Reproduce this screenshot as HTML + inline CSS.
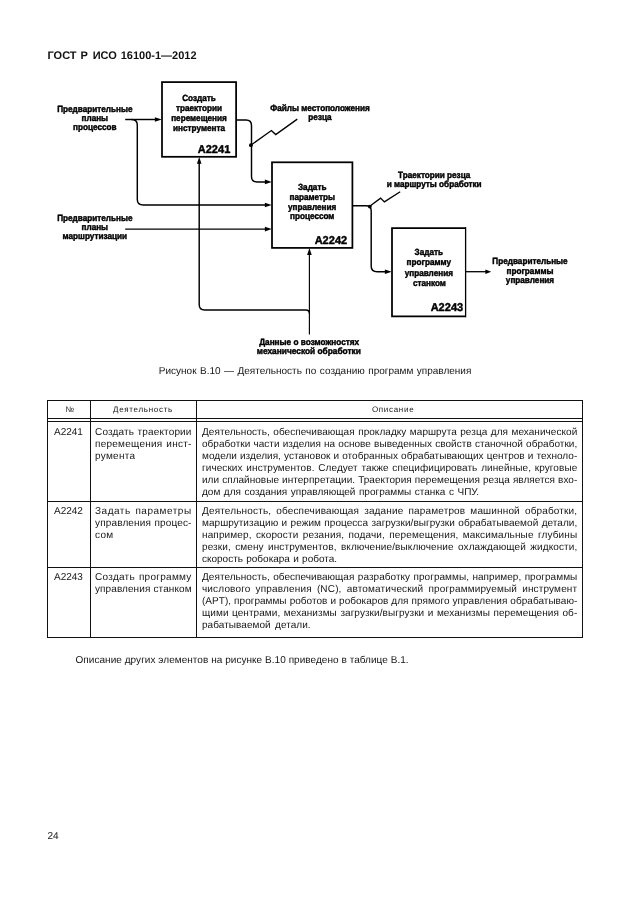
<!DOCTYPE html>
<html lang="ru">
<head>
<meta charset="utf-8">
<title>ГОСТ Р ИСО 16100-1—2012</title>
<style>
html,body{margin:0;padding:0;background:#fff;}
body{width:630px;height:913px;position:relative;overflow:hidden;font-family:"Liberation Sans",sans-serif;color:#151515;text-rendering:geometricPrecision;}
#w{position:absolute;left:0;top:0;width:630px;height:913px;will-change:transform;}
.abs{position:absolute;white-space:nowrap;}
.hdr{top:49.5px;font-size:11px;line-height:13px;font-weight:bold;color:#111;}
.cap{left:158.8px;top:365.3px;font-size:10px;line-height:13px;word-spacing:0.7px;}
.note{left:75.5px;top:654.3px;font-size:10px;line-height:13px;letter-spacing:0.047px;}
.pg{left:47.4px;top:830.3px;font-size:10px;line-height:13px;}
svg{position:absolute;left:0;top:0;}
svg text{font-family:"Liberation Sans",sans-serif;font-weight:bold;fill:#000;}
.t{font-size:9.0px;text-anchor:middle;}
.n{font-size:11.4px;text-anchor:end;}
.ln{position:absolute;background:#111;}
.th{position:absolute;font-size:8px;line-height:10px;letter-spacing:0.7px;text-align:center;white-space:nowrap;}
.c{position:absolute;font-size:10px;line-height:12.0px;}
.c div{height:12.0px;white-space:nowrap;}
.j{text-align:justify;text-align-last:justify;}
</style>
</head>
<body>
<div id="w">
<div class="abs hdr" style="left:47.5px">ГОСТ</div>
<div class="abs hdr" style="left:80.6px">Р</div>
<div class="abs hdr" style="left:92.7px">ИСО</div>
<div class="abs hdr" style="left:120.7px">16100-1—2012</div>

<svg width="630" height="360" viewBox="0 0 630 360">
<defs><filter id="b" x="-5%" y="-5%" width="110%" height="110%"><feGaussianBlur stdDeviation="0.3"/></filter><filter id="c" x="-5%" y="-5%" width="110%" height="110%"><feGaussianBlur stdDeviation="0.45"/></filter></defs>
<g filter="url(#b)">
<g fill="none" stroke="#000" stroke-width="1.75">
<rect x="162.0" y="82.1" width="74.10" height="74.70"/>
<rect x="272.0" y="162.3" width="80.40" height="85.60"/>
<path d="M465.7 228.0H392.0V316.4H465.7" stroke-linejoin="miter"/>
<path d="M465.6 227.13V317.27" stroke-width="1.3"/>
</g>
<g fill="none" stroke="#000" stroke-width="1.45">
<path d="M125.2 119.5H157"/>
<path d="M131.5 119.5Q137.3 119.5 137.3 125.0V199.5Q137.3 205.0 143.3 205.0H267"/>
<path d="M125.2 229.1H267"/>
<path d="M236.1 119.9H246.0Q251.5 119.9 251.5 125.4V176.4Q251.5 181.9 257.0 181.9H267"/>
<path d="M250.8 145.2L271.4 130.5L275.7 134.6L297.3 119.1" stroke-width="1.35"/>
<path d="M352.4 205.8H366.2Q371.2 205.8 371.2 210.8V266.2Q371.2 271.7 377.2 271.7H387"/>
<path d="M369.7 206.2L380.6 198.1L384.4 201.9L400.2 191.7" stroke-width="1.35"/>
<path d="M465.7 271.7H487" stroke-width="1.3"/>
<path d="M199.2 162V304.5Q199.2 310.0 204.7 310.0H305.9Q309.4 310.0 309.4 313.5"/>
<path d="M309.4 334.4V254" stroke-width="1.15"/>
</g>
<g fill="#000" stroke="none">
<circle cx="250.9" cy="145.2" r="1.9"/>
<circle cx="369.8" cy="206.6" r="1.9"/>
<path d="M161.7 119.5L154.9 117.2V121.8Z"/>
<path d="M271.7 205.0L264.9 202.7V207.3Z"/>
<path d="M271.7 229.1L264.9 226.8V231.4Z"/>
<path d="M271.7 181.9L264.9 179.6V184.2Z"/>
<path d="M391.7 271.7L384.9 269.4V274.0Z"/>
<path d="M491.2 271.7L485.4 269.5V273.9Z"/>
<path d="M199.2 157.0L196.9 163.8H201.5Z"/>
<path d="M309.4 248.1L307.1 254.9H311.7Z"/>
</g>
</g>
<g filter="url(#c)">
<g stroke="#000" stroke-width="0.45" stroke-linejoin="round">
<text class="t" transform="translate(94.80 111.90) scale(0.908 1)">Предварительные</text>
<text class="t" transform="translate(94.80 121.30) scale(0.908 1)">планы</text>
<text class="t" transform="translate(94.80 130.00) scale(0.908 1)">процессов</text>
<text class="t" transform="translate(94.80 221.20) scale(0.908 1)">Предварительные</text>
<text class="t" transform="translate(94.80 230.30) scale(0.908 1)">планы</text>
<text class="t" transform="translate(94.80 239.00) scale(0.908 1)">маршрутизации</text>
<text class="t" transform="translate(199.00 101.00) scale(0.908 1)">Создать</text>
<text class="t" transform="translate(199.00 110.85) scale(0.908 1)">траектории</text>
<text class="t" transform="translate(199.00 120.70) scale(0.908 1)">перемещения</text>
<text class="t" transform="translate(199.00 130.55) scale(0.908 1)">инструмента</text>
<text class="n" transform="translate(230.30 152.90) scale(0.97 1)">A2241</text>
<text class="t" transform="translate(320.00 111.20) scale(0.908 1)">Файлы местоположения</text>
<text class="t" transform="translate(320.00 120.40) scale(0.908 1)">резца</text>
<text class="t" transform="translate(312.20 190.00) scale(0.908 1)">Задать</text>
<text class="t" transform="translate(312.20 199.80) scale(0.908 1)">параметры</text>
<text class="t" transform="translate(312.20 209.60) scale(0.908 1)">управления</text>
<text class="t" transform="translate(312.20 219.40) scale(0.908 1)">процессом</text>
<text class="n" transform="translate(347.20 244.00) scale(0.97 1)">A2242</text>
<text class="t" transform="translate(434.20 178.00) scale(0.908 1)">Траектории резца</text>
<text class="t" transform="translate(434.20 187.00) scale(0.908 1)">и маршруты обработки</text>
<text class="t" transform="translate(428.80 254.60) scale(0.908 1)">Задать</text>
<text class="t" transform="translate(428.80 264.90) scale(0.908 1)">программу</text>
<text class="t" transform="translate(428.80 275.50) scale(0.908 1)">управления</text>
<text class="t" transform="translate(429.40 285.60) scale(0.908 1)">станком</text>
<text class="n" transform="translate(463.20 311.30) scale(0.97 1)">A2243</text>
<text class="t" transform="translate(530.00 264.20) scale(0.908 1)">Предварительные</text>
<text class="t" transform="translate(530.00 273.60) scale(0.908 1)">программы</text>
<text class="t" transform="translate(530.00 283.00) scale(0.908 1)">управления</text>
<text class="t" transform="translate(309.20 345.20) scale(0.915 1)">Данные о возможностях</text>
<text class="t" transform="translate(308.80 353.60) scale(0.925 1)">механической обработки</text>
</g>
</g>
</svg>

<div class="abs cap">Рисунок В.10 — Деятельность по созданию программ управления</div>

<div class="ln" style="left:47px;top:400px;width:536px;height:1px"></div>
<div class="ln" style="left:47px;top:418px;width:536px;height:1px"></div>
<div class="ln" style="left:47px;top:421px;width:536px;height:1px"></div>
<div class="ln" style="left:47px;top:501px;width:536px;height:1px"></div>
<div class="ln" style="left:47px;top:567px;width:536px;height:1px"></div>
<div class="ln" style="left:47px;top:637px;width:536px;height:1px"></div>
<div class="ln" style="left:47px;top:400px;width:1px;height:238px"></div>
<div class="ln" style="left:582px;top:400px;width:1px;height:238px"></div>
<div class="ln" style="left:90px;top:400px;width:1px;height:238px"></div>
<div class="ln" style="left:196px;top:400px;width:1px;height:238px"></div>

<div class="th" style="left:49.2px;width:42px;top:404.6px">№</div>
<div class="th" style="left:91px;width:104px;top:404.6px">Деятельность</div>
<div class="th" style="left:199.6px;width:387px;top:404.6px">Описание</div>

<div class="c" style="left:54px;top:426.5px"><div>A2241</div></div>
<div class="c" style="left:95.0px;top:426.5px;width:96.6px">
<div class="j" style="letter-spacing:0.155px">Создать траектории</div>
<div class="j" style="letter-spacing:0.252px">перемещения инст-</div>
<div style="word-spacing:0.0px;letter-spacing:0.3px">румента</div>
</div>
<div class="c" style="left:202.0px;top:426.5px;width:375.3px">
<div class="j" style="letter-spacing:0.053px">Деятельность, обеспечивающая прокладку маршрута резца для механической</div>
<div class="j" style="letter-spacing:0.036px">обработки части изделия на основе выведенных свойств станочной обработки,</div>
<div class="j" style="letter-spacing:0.032px">модели изделия, установок и отобранных обрабатывающих центров и техноло-</div>
<div class="j" style="letter-spacing:0.078px">гических инструментов. Следует также специфицировать линейные, круговые</div>
<div class="j" style="letter-spacing:0.027px">или сплайновые интерпретации. Траектория перемещения резца является вхо-</div>
<div style="word-spacing:0.75px;letter-spacing:0.0px">дом для создания управляющей программы станка с ЧПУ.</div>
</div>
<div class="c" style="left:54px;top:506.0px"><div>A2242</div></div>
<div class="c" style="left:95.0px;top:506.0px;width:96.6px">
<div class="j" style="letter-spacing:0.515px">Задать параметры</div>
<div class="j" style="letter-spacing:0.152px">управления процес-</div>
<div style="word-spacing:0.0px;letter-spacing:0.3px">сом</div>
</div>
<div class="c" style="left:202.0px;top:506.0px;width:375.3px">
<div class="j" style="letter-spacing:0.157px">Деятельность, обеспечивающая задание параметров машинной обработки,</div>
<div class="j" style="letter-spacing:0.046px">маршрутизацию и режим процесса загрузки/выгрузки обрабатываемой детали,</div>
<div class="j" style="letter-spacing:0.129px">например, скорости резания, подачи, перемещения, максимальные глубины</div>
<div class="j" style="letter-spacing:0.106px">резки, смену инструментов, включение/выключение охлаждающей жидкости,</div>
<div style="word-spacing:0.5px;letter-spacing:0.0px">скорость робокара и робота.</div>
</div>
<div class="c" style="left:54px;top:572.0px"><div>A2243</div></div>
<div class="c" style="left:95.0px;top:572.0px;width:96.6px">
<div class="j" style="letter-spacing:0.282px">Создать программу</div>
<div class="j" style="letter-spacing:0.085px">управления станком</div>
</div>
<div class="c" style="left:202.0px;top:572.0px;width:375.3px">
<div class="j" style="letter-spacing:0.043px">Деятельность, обеспечивающая разработку программы, например, программы</div>
<div class="j" style="letter-spacing:0.16px">числового управления (NC), автоматический программируемый инструмент</div>
<div class="j" style="letter-spacing:0.026px">(APT), программы роботов и робокаров для прямого управления обрабатываю-</div>
<div class="j" style="letter-spacing:0.067px">щими центрами, механизмы загрузки/выгрузки и механизмы перемещения об-</div>
<div style="word-spacing:1.5px;letter-spacing:0.05px">рабатываемой детали.</div>
</div>

<div class="abs note">Описание других элементов на рисунке В.10 приведено в таблице В.1.</div>
<div class="abs pg">24</div>
</div>
</body>
</html>
